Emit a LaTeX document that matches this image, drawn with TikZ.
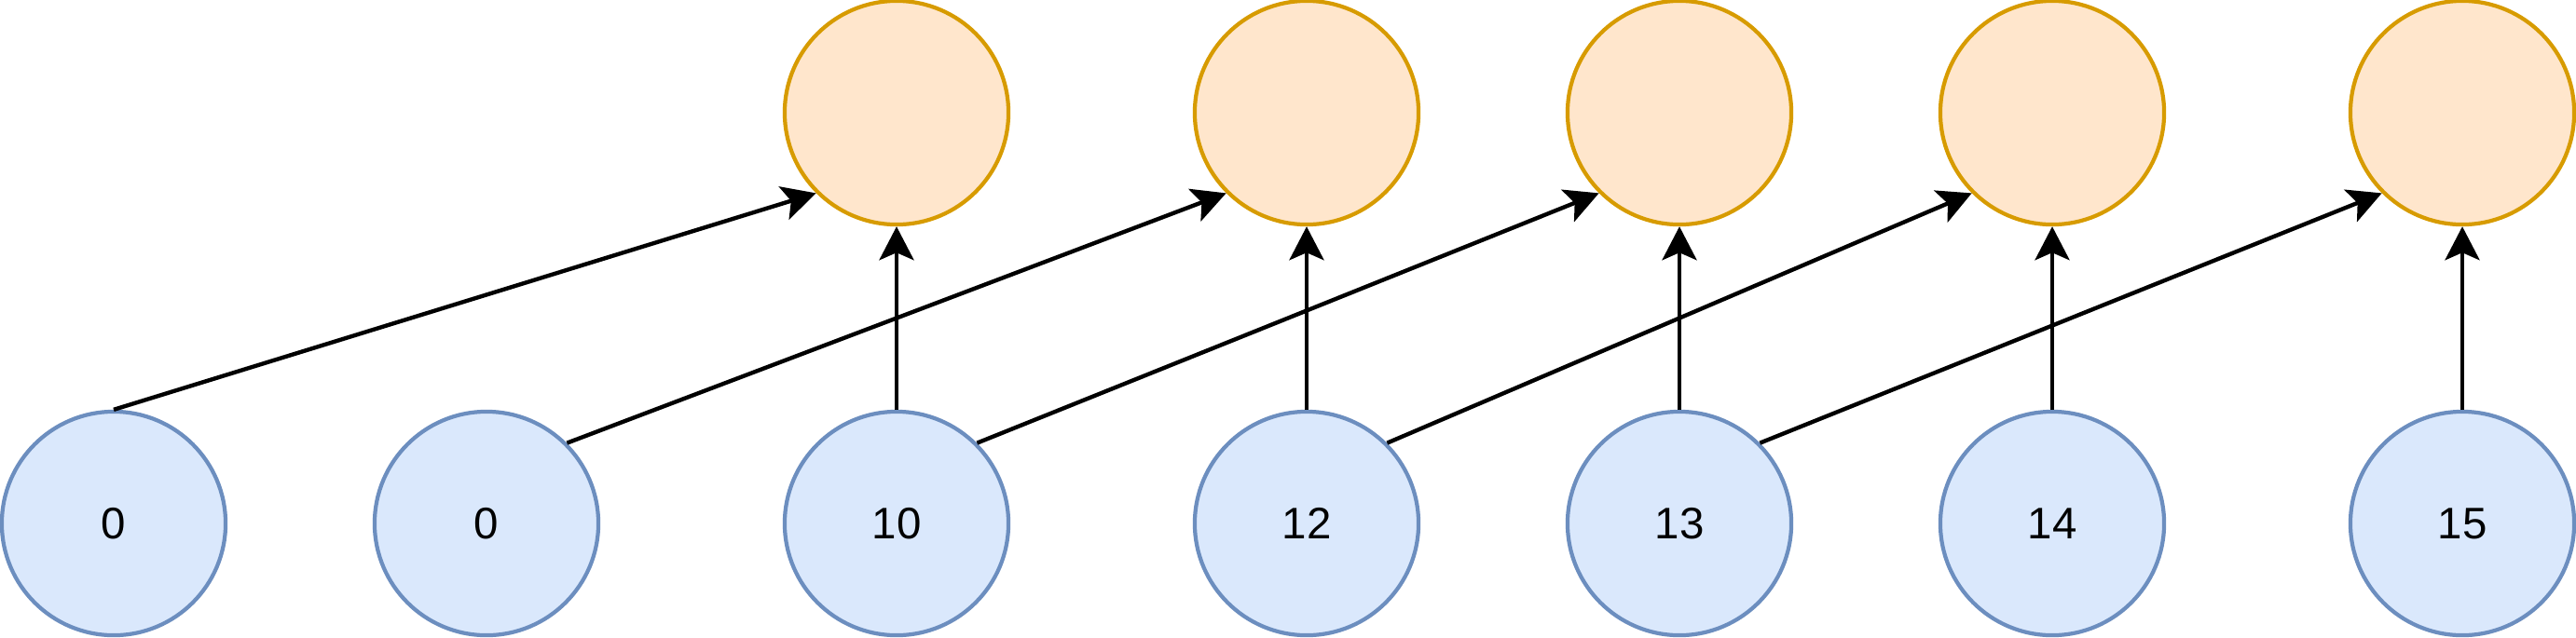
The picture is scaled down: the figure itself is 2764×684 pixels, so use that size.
\documentclass[tikz,border=0pt]{standalone}
\usepackage{fontspec}
\setmainfont{Liberation Sans}
\usetikzlibrary{arrows.meta}
\definecolor{bfill}{HTML}{DAE8FC}
\definecolor{bline}{HTML}{6C8EBF}
\definecolor{ofill}{HTML}{FFE6CC}
\definecolor{oline}{HTML}{D79B00}
\begin{document}
\begin{tikzpicture}[x=0.01cm,y=-0.01cm,
  inp/.style={circle,draw=bline,fill=bfill,line width=1.2pt,minimum size=2.4cm,inner sep=0pt,font=\fontsize{13.5}{16}\selectfont},
  outp/.style={circle,draw=oline,fill=ofill,line width=1.2pt,minimum size=2.4cm,inner sep=0pt},
  conn/.style={line width=1.25pt,-{Stealth[length=0.36cm,width=0.37cm,inset=0.08cm]}}]
\useasboundingbox (0,0) rectangle (2764,684);
\node[outp] (t1) at (962,121) {};
\node[outp] (t2) at (1402,121) {};
\node[outp] (t3) at (1802,121) {};
\node[outp] (t4) at (2202,121) {};
\node[outp] (t5) at (2642,121) {};
\node[inp] (b0) at (122,562) {0};
\node[inp] (b1) at (522,562) {0};
\node[inp] (b2) at (962,562) {10};
\node[inp] (b3) at (1402,562) {12};
\node[inp] (b4) at (1802,562) {13};
\node[inp] (b5) at (2202,562) {14};
\node[inp] (b6) at (2642,562) {15};
\draw[conn] (b0.north) -- (t1.225);
\draw[conn] (b1.45) -- (t2.225);
\draw[conn] (b2.45) -- (t3.225);
\draw[conn] (b3.45) -- (t4.225);
\draw[conn] (b4.45) -- (t5.225);
\draw[conn] (b2.north) -- (t1.south);
\draw[conn] (b3.north) -- (t2.south);
\draw[conn] (b4.north) -- (t3.south);
\draw[conn] (b5.north) -- (t4.south);
\draw[conn] (b6.north) -- (t5.south);
\end{tikzpicture}
\end{document}
